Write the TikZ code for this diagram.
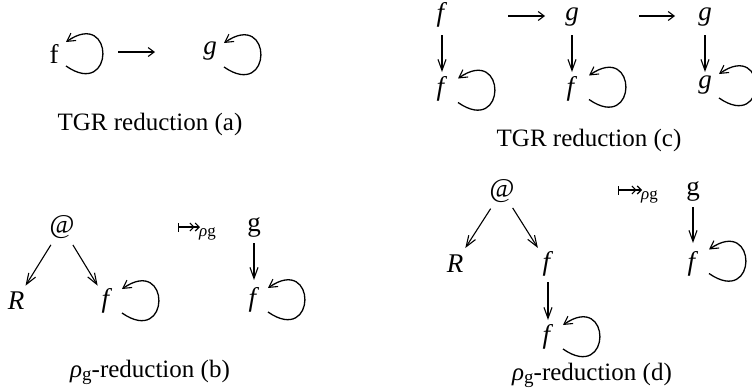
\documentclass[tikz,border=0pt]{standalone}
\usepackage{fontspec}
\setmainfont{Liberation Serif}
\usetikzlibrary{arrows.meta}
\newcommand\selfloop[3]{\draw[loopline] ([shift={(#2,#3+12)}]#1.center) .. controls +(49,34) and +(49,-34) .. ([shift={(#2,#3-12)}]#1.center);}
\begin{document}
\begin{tikzpicture}[x=1pt,y=-1pt,
  every node/.style={inner sep=0pt, font=\fontsize{25}{30}\selectfont},
  lbl/.style={font=\fontsize{27}{30}\selectfont},
  edgearr/.style={line width=1.1pt, -{Straight Barb[length=11pt,width=8pt,line width=1.1pt]}},
  redarr/.style={line width=1.2pt, -{Straight Barb[length=6pt,width=9pt,line width=1.1pt]}},
  maparr/.style={line width=1.1pt, {Bar[width=9pt,line width=1.1pt]}-{Straight Barb[length=4pt,width=8pt,line width=1.1pt]Straight Barb[length=4pt,width=8pt,line width=1.1pt]}},
  loopline/.style={line width=1.3pt, -{Straight Barb[length=8pt,width=9pt,line width=1.1pt]}},
  sublbl/.style={font=\fontsize{17}{17}\selectfont},
  captxt/.style={anchor=base}]
\useasboundingbox (0,0) rectangle (752,389);

% ---------- (a)
\node[lbl] (af) at (54,54) {f};
\node[lbl] (ag) at (210,51) {\textit{g}};
\selfloop{af}{12}{0}
\selfloop{ag}{14}{4}
\coordinate (ars) at (118,52);
\coordinate (are) at (155,52);
\draw[redarr] (ars) -- (are);
\node[captxt] (capa) at (150,130) {TGR reduction (a)};

% ---------- (c)
\node[lbl] (c1) at (442,15) {\textit{f}};
\node[lbl] (c2) at (572,17) {\textit{g}};
\node[lbl] (c3) at (705,17) {\textit{g}};
\node[lbl] (c4) at (442,89) {\textit{f}};
\node[lbl] (c5) at (572,89) {\textit{f}};
\node[lbl] (c6) at (705,85) {\textit{g}};
\draw[edgearr, shorten <=20pt, shorten >=17pt] (c1.center) -- (c4.center);
\draw[edgearr, shorten <=18pt, shorten >=17pt] (c2.center) -- (c5.center);
\draw[edgearr, shorten <=18pt, shorten >=13pt] (c3.center) -- (c6.center);
\selfloop{c4}{16}{1.5}
\selfloop{c5}{17}{-1.5}
\selfloop{c6}{14}{1}
\coordinate (cr1s) at (508,16);
\coordinate (cr1e) at (545,16);
\coordinate (cr2s) at (639,16);
\coordinate (cr2e) at (675,16);
\draw[redarr] (cr1s) -- (cr1e);
\draw[redarr] (cr2s) -- (cr2e);
\node[captxt] (capc) at (589,146) {TGR reduction (c)};

% ---------- (b)
\node[lbl] (bat) at (62,227) {@};
\node[lbl] (bR) at (16,301) {\textit{R}};
\node[lbl] (bf) at (107,301) {\textit{f}};
\draw[edgearr, shorten <=21pt, shorten >=18pt] (bat.center) -- (bR.center);
\draw[edgearr, shorten <=21pt, shorten >=18pt] (bat.center) -- (bf.center);
\selfloop{bf}{15}{0}
\coordinate (bms) at (178,227);
\coordinate (bme) at (200,227);
\draw[maparr] (bms) -- (bme);
\node[sublbl, anchor=west] (bmlab) at (199,234) {\textit{ρ}g};
\node[lbl] (bg) at (254,227) {g};
\node[lbl] (bf2) at (254,300) {\textit{f}};
\draw[edgearr, shorten <=16pt, shorten >=20pt] (bg.center) -- (bf2.center);
\selfloop{bf2}{14}{0}
\node[captxt] (capb) at (150,377) {\textit{ρ}\raisebox{-3.5pt}{\fontsize{19}{19}\selectfont g}-reduction (b)};

% ---------- (d)
\node[lbl] (dat) at (502,191) {@};
\node[lbl] (dR) at (455,264) {\textit{R}};
\node[lbl] (df) at (548,264) {\textit{f}};
\node[lbl] (df2) at (548,337) {\textit{f}};
\draw[edgearr, shorten <=21pt, shorten >=19pt] (dat.center) -- (dR.center);
\draw[edgearr, shorten <=20pt, shorten >=19pt] (dat.center) -- (df.center);
\draw[edgearr, shorten <=18pt, shorten >=17pt] (df.center) -- (df2.center);
\selfloop{df2}{15}{0}
\coordinate (dms) at (618,190);
\coordinate (dme) at (642,190);
\draw[maparr] (dms) -- (dme);
\node[sublbl, anchor=west] (dmlab) at (641,197) {\textit{ρ}g};
\node[lbl] (dg) at (693,191) {g};
\node[lbl] (df3) at (693,264) {\textit{f}};
\draw[edgearr, shorten <=16pt, shorten >=21pt] (dg.center) -- (df3.center);
\selfloop{df3}{16}{-2.5}
\node[captxt] (capd) at (592,380) {\textit{ρ}\raisebox{-3.5pt}{\fontsize{19}{19}\selectfont g}-reduction (d)};
\end{tikzpicture}
\end{document}
